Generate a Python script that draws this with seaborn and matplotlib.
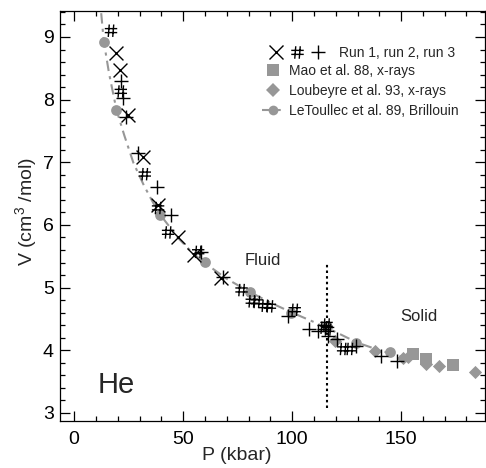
import matplotlib
matplotlib.use("Agg")
import matplotlib.pyplot as plt
import seaborn as sns
import numpy as np
import pandas as pd
from matplotlib.path import Path
from matplotlib.lines import Line2D
from matplotlib.legend_handler import HandlerTuple

# ---------------- data ----------------
run1_P = [19.1, 21.0, 24.8, 31.7, 38.5, 47.7, 55.0, 67.2]
run1_V = [8.74, 8.48, 7.755, 7.09, 6.32, 5.80, 5.52, 5.16]

run2_P = [16.9, 21.4, 32.4, 38.5, 43.1, 56.9, 76.8, 81.5, 83.8, 87.5, 89.8,
          101.2, 114.5, 115.8, 116.5, 123.4, 126.5]
run2_V = [9.10, 8.13, 6.81, 6.27, 5.88, 5.57, 4.96, 4.78, 4.77, 4.71, 4.70,
          4.645, 4.36, 4.41, 4.33, 4.02, 4.02]

run3_P = [21.7, 22.5, 23.7, 29.1, 37.8, 44.2, 58.0, 68.3, 98.2, 107.8, 111.9,
          116.5, 120.4, 129.5, 141.0, 147.9]
run3_V = [8.29, 8.02, 7.72, 7.155, 6.60, 6.16, 5.575, 5.17, 4.54, 4.34, 4.30,
          4.23, 4.18, 4.06, 3.90, 3.82]

mao_P = [155.5, 161.6, 173.6]
mao_V = [3.94, 3.86, 3.77]

loub_P = [119.6, 137.9, 150.9, 153.2, 161.6, 167.3, 183.8]
loub_V = [4.14, 3.98, 3.87, 3.89, 3.78, 3.75, 3.645]

letoul_P = [13.6, 19.4, 39.6, 60.0, 80.6, 99.7, 116.1, 129.5, 144.8]
letoul_V = [8.925, 7.835, 6.16, 5.405, 4.935, 4.60, 4.37, 4.11, 3.97]

curve_P = [12.4, 13.6, 16.0, 19.4, 23.0, 27.2, 32.0, 36.3, 40.0, 48.0, 55.0,
           62.0, 70.0, 80.0, 90.0, 100.0, 110.0, 120.0, 130.0, 140.0, 152.0]
curve_V = [9.38, 8.93, 8.42, 7.84, 7.43, 6.99, 6.63, 6.35, 6.14, 5.78, 5.53,
           5.34, 5.14, 4.94, 4.76, 4.60, 4.45, 4.29, 4.12, 4.00, 3.88]

transition_P = 115.8
transition_V = (3.08, 5.39)

labels = ["Run 1, run 2, run 3", "Mao et al. 88, x-rays",
          "Loubeyre et al. 93, x-rays", "LeToullec et al. 89, Brillouin"]

# ---------------- style ----------------
sns.set_style("ticks")
plt.rcParams['font.family'] = ['Liberation Sans', 'DejaVu Sans']
plt.rcParams['mathtext.fontset'] = 'custom'
plt.rcParams['mathtext.rm'] = 'Liberation Sans'
plt.rcParams['mathtext.it'] = 'Liberation Sans:italic'

GREY = '#979797'

# hash marker path
hash_path = Path(
    [(-0.22, -0.5), (-0.14, 0.5), (0.14, -0.5), (0.22, 0.5),
     (-0.5, -0.15), (0.5, -0.15), (-0.5, 0.17), (0.5, 0.17)],
    [Path.MOVETO, Path.LINETO, Path.MOVETO, Path.LINETO,
     Path.MOVETO, Path.LINETO, Path.MOVETO, Path.LINETO])

fig = plt.figure(figsize=(4.86, 4.68), dpi=100)
ax = fig.add_axes([60/486, 47/468, 425/486, 410/468])

# curve
sns.lineplot(x=curve_P, y=curve_V, ax=ax, color=GREY, lw=1.5,
             linestyle=(0, (5, 2.5, 1.5, 2.5)), sort=False)

# grey data
sns.scatterplot(x=letoul_P, y=letoul_V, ax=ax, color=GREY, marker='o',
                s=60, linewidth=0, zorder=3)
sns.scatterplot(x=mao_P, y=mao_V, ax=ax, color=GREY, marker='s',
                s=80, linewidth=0, zorder=3)
sns.scatterplot(x=loub_P, y=loub_V, ax=ax, color=GREY, marker='D',
                s=45, linewidth=0, zorder=3)

# runs
sns.scatterplot(x=run1_P, y=run1_V, ax=ax, color='black', marker='x',
                s=100, linewidth=1.0, zorder=4)
ax.scatter(run2_P, run2_V, marker=hash_path, s=80, facecolors='none',
           edgecolors='black', linewidths=1.0, zorder=4)
sns.scatterplot(x=run3_P, y=run3_V, ax=ax, color='black', marker='+',
                s=110, linewidth=1.0, zorder=4)

# transition line
ax.vlines(transition_P, transition_V[0], transition_V[1], colors='black',
          linestyles=(0, (1.2, 1.5)), lw=1.5, zorder=2)

ax.text(78.3, 5.44, 'Fluid', fontsize=12, va='center', ha='left')
ax.text(149.4, 4.54, 'Solid', fontsize=12, va='center', ha='left')
ax.text(10.6, 3.45, 'He', fontsize=21, va='center', ha='left')

ax.set_xlim(-6.5, 188.5)
ax.set_ylim(2.87, 9.415)
ax.set_xticks([0, 50, 100, 150])
ax.set_xticks(np.arange(0, 190, 10), minor=True)
ax.set_yticks([3, 4, 5, 6, 7, 8, 9])
ax.set_yticks(np.arange(3, 9.41, 0.2), minor=True)
ax.tick_params(which='both', direction='in', top=True, right=True,
               labelsize=14, width=0.9, colors='black')
ax.tick_params(which='major', length=7)
ax.tick_params(which='minor', length=3.5)
ax.tick_params(axis='x', which='both', pad=7.5)
ax.tick_params(axis='y', which='both', pad=4.5)
for s in ax.spines.values():
    s.set_linewidth(0.9)
    s.set_color('black')

ax.set_xlabel('P (kbar)', fontsize=14)
ax.set_ylabel('V (cm$^{3}$ /mol)', fontsize=14)
ax.xaxis.set_label_coords((237-60)/425, -(26/410))
ax.yaxis.set_label_coords(-(21/425), (421-212)/410)

# legends
h_x = Line2D([], [], marker='x', ls='', color='black', ms=10, mew=1.0)
h_h = Line2D([], [], marker=hash_path, ls='', color='black', ms=9, mew=1.0,
             mfc='none')
h_p = Line2D([], [], marker='+', ls='', color='black', ms=10.5, mew=1.0)
leg1 = ax.legend([(h_x, h_h, h_p)], [labels[0]],
                 handler_map={tuple: HandlerTuple(ndivide=None, pad=0.3)},
                 loc='center left', bbox_to_anchor=(267/486, 1-53.3/468),
                 bbox_transform=fig.transFigure, frameon=False, fontsize=10,
                 handlelength=4.3, handletextpad=0.9, borderpad=0,
                 borderaxespad=0)
ax.add_artist(leg1)

h_s = Line2D([], [], marker='s', ls='', color=GREY, ms=9, mew=0)
h_d = Line2D([], [], marker='D', ls='', color=GREY, ms=7, mew=0)
h_l = Line2D([], [], marker='o', color=GREY, ms=7, mew=0, lw=1.5,
             ls=(0, (5, 2.5, 1.5, 2.5)))
ax.legend([h_s, h_d, h_l], labels[1:], loc='center left',
          bbox_to_anchor=(262/486, 1-91/468), bbox_transform=fig.transFigure,
          frameon=False, fontsize=10, handlelength=1.6, handletextpad=0.35,
          labelspacing=0.45, borderpad=0, borderaxespad=0)

fig.savefig('out.png', dpi=100)
